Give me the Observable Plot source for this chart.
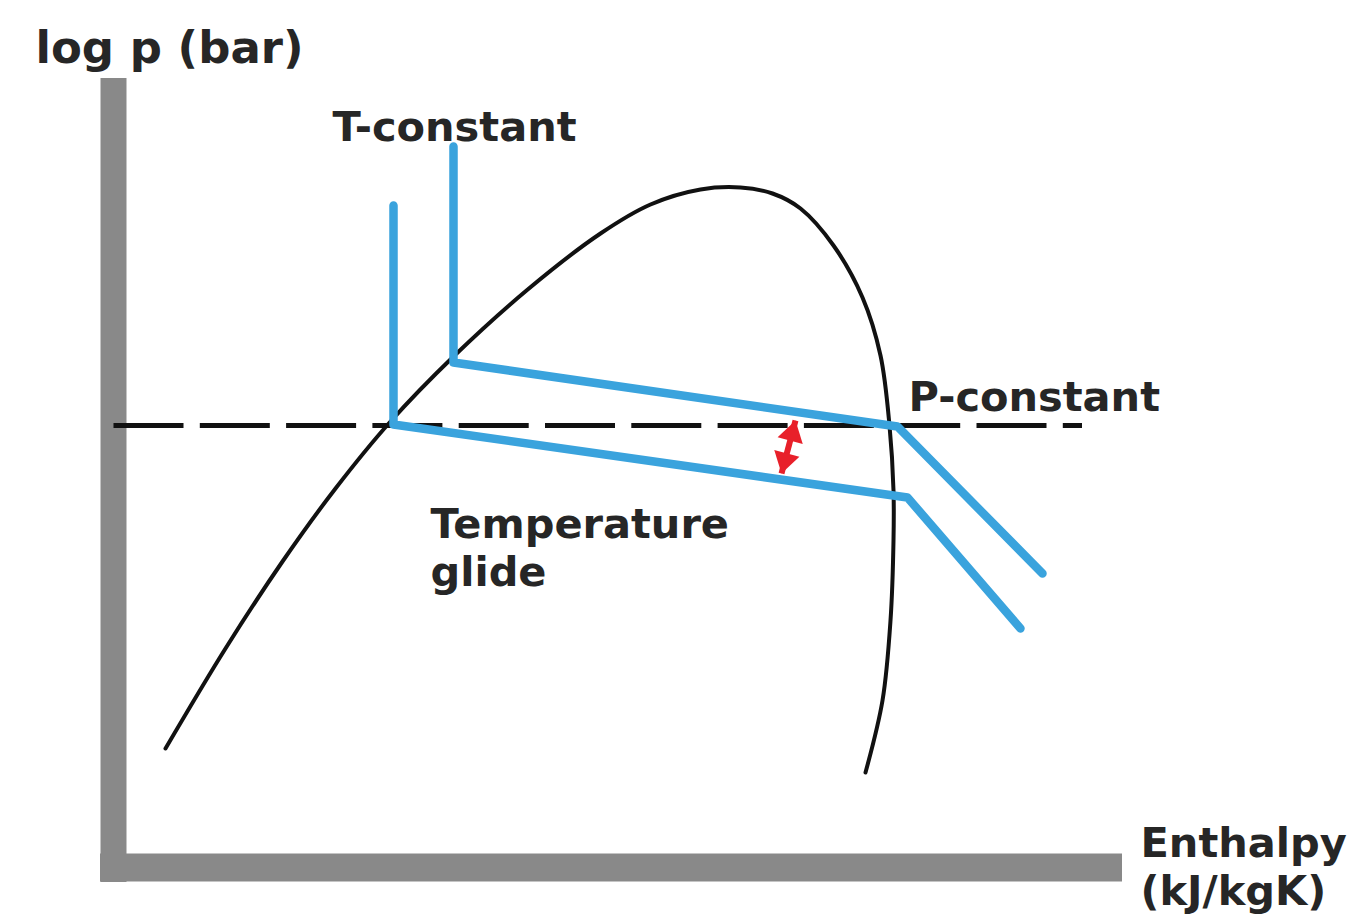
<!DOCTYPE html>
<html>
<head>
<meta charset="utf-8">
<script src="https://cdn.jsdelivr.net/npm/d3@7"></script>
<script src="https://cdn.jsdelivr.net/npm/@observablehq/plot@0.6"></script>
<style>
  html, body { margin: 0; padding: 0; background: #fff; }
  #chart svg { display: block; }
</style>
</head>
<body>
<div id="chart"></div>
<script>
// Chart units: enthalpy (x) 0..100, log p (y) 0..80 (schematic)
const domeH = [5.2, 11.2, 16.9, 22.2, 27.7, 34.0, 41.3, 48.7, 53.7, 58.7, 62.7, 65.9, 68.7, 72.0, 74.9, 76.7, 77.6, 78.0, 78.0, 77.7, 76.9, 75.2];
const domeP = [11.9, 21.9, 30.6, 37.9, 44.6, 51.1, 57.7, 63.4, 66.3, 67.8, 68.0, 67.4, 65.9, 62.2, 57.0, 51.2, 44.2, 37.7, 32.7, 24.7, 16.7, 9.5];

const upperH = [34.0, 34.0, 78.4, 92.9];
const upperP = [72.1, 50.5, 44.1, 29.4];
const lowerH = [28.0, 28.0, 79.4, 90.7];
const lowerP = [66.2, 44.3, 37.0, 23.9];

const pConstLevel = 44.2;
const pConstRange = [0, 96.9];

const glideArrow = {h1: 66.8, p1: 39.4, h2: 68.2, p2: 44.7};

const axisXRange = [-1.3, 100.9];
const axisYRange = [-1.5, 78.9];

const labelText = ["log p (bar)", "T-constant", "P-constant", "Temperature", "glide", "Enthalpy", "(kJ/kgK)"];
const labelH = [-7.8, 21.9, 79.5, 31.7, 31.7, 102.7, 102.7];
const labelP = [80.5, 72.7, 45.7, 33.0, 28.2, 1.1, -3.7];
const labelBig = [true, false, false, false, false, false, false];

const dome = domeH.map((h, i) => ({h, p: domeP[i]}));
const upper = upperH.map((h, i) => ({h, p: upperP[i]}));
const lower = lowerH.map((h, i) => ({h, p: lowerP[i]}));
const labels = labelText.map((t, i) => ({t, h: labelH[i], p: labelP[i], big: labelBig[i]}));

// Arrow heads at both ends of the glide arrow (same units on both axes: 10 px/unit)
const ang = Math.atan2(glideArrow.h2 - glideArrow.h1, glideArrow.p2 - glideArrow.p1) * 180 / Math.PI;
const heads = [
  {h: glideArrow.h2, p: glideArrow.p2, rot: ang},
  {h: glideArrow.h1, p: glideArrow.p1, rot: ang + 180}
];
const headSymbol = {
  draw(context, size) {
    const r = Math.sqrt(size / Math.PI);
    context.moveTo(0, 0);
    context.lineTo(-r * 1.0, r * 1.6);
    context.lineTo(r * 1.0, r * 1.6);
    context.closePath();
  }
};

const blue = "#3aa3dd";
const red = "#e8202a";
const font = "DejaVu Sans, Verdana, sans-serif";

const chart = Plot.plot({
  width: 1353,
  height: 915,
  margin: 0,
  x: {domain: [0, 100], range: [113, 1113], axis: null},
  y: {domain: [0, 80], range: [867, 67], axis: null},
  style: {background: "#fff", overflow: "visible"},
  marks: [
    Plot.ruleX([0], {y1: axisYRange[0], y2: axisYRange[1], stroke: "#898989", strokeWidth: 26}),
    Plot.ruleY([0], {x1: axisXRange[0], x2: axisXRange[1], stroke: "#898989", strokeWidth: 28}),
    Plot.ruleY([pConstLevel], {x1: pConstRange[0], x2: pConstRange[1], stroke: "#111", strokeWidth: 5, strokeDasharray: "70,16.3", strokeDashoffset: -0.5}),
    Plot.line(dome, {x: "h", y: "p", curve: "catmull-rom", stroke: "#111", strokeWidth: 4}),
    Plot.line(upper, {x: "h", y: "p", stroke: blue, strokeWidth: 8.5, strokeLinejoin: "round", strokeLinecap: "round"}),
    Plot.line(lower, {x: "h", y: "p", stroke: blue, strokeWidth: 8.5, strokeLinejoin: "round", strokeLinecap: "round"}),
    Plot.link([glideArrow], {x1: "h1", y1: "p1", x2: "h2", y2: "p2", stroke: red, strokeWidth: 6}),
    Plot.dot(heads, {x: "h", y: "p", rotate: "rot", symbol: headSymbol, r: 13, fill: red, stroke: "none"}),
    Plot.text(labels.filter(d => !d.big), {x: "h", y: "p", text: "t", textAnchor: "start", lineAnchor: "bottom", fontFamily: font, fontWeight: "bold", fontSize: 41.5, fill: "#262626"}),
    Plot.text(labels.filter(d => d.big), {x: "h", y: "p", text: "t", textAnchor: "start", lineAnchor: "bottom", fontFamily: font, fontWeight: "bold", fontSize: 45, fill: "#262626"})
  ]
});
document.getElementById("chart").appendChild(chart);
</script>
</body>
</html>
